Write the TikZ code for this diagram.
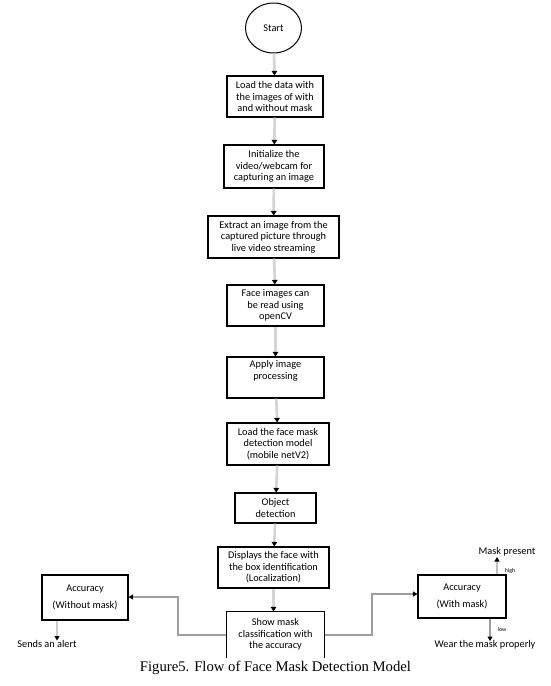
\documentclass[tikz,border=0pt]{standalone}
\usepackage{fontspec}
\setmainfont{Carlito}
\newfontfamily\capfont{Liberation Serif}
\usetikzlibrary{arrows.meta,calc,shapes.geometric}
\begin{document}
\begin{tikzpicture}[x=1pt,y=-1pt,
  stepbox/.style={draw, line width=1.1pt, align=center, inner sep=1pt,
    font=\fontsize{10.3}{11.6}\selectfont},
  freetext/.style={inner sep=0.5pt, font=\fontsize{10.3}{11}\selectfont},
  tinytext/.style={inner sep=0pt, font=\fontsize{5.8}{6}\selectfont},
  conn/.style={draw=black!17, line width=2.6pt,
    -{Triangle[color=black,length=4.5pt,width=5.5pt]}},
  sideconn/.style={draw=black!38, line width=1.8pt,
    -{Triangle[color=black,length=4.5pt,width=5pt]}}]
\useasboundingbox (0,0) rectangle (551,686);

\node[draw, ellipse, line width=1pt, minimum width=56pt, minimum height=50pt,
  font=\fontsize{10.3}{11}\selectfont] (start) at (273.5,28) {Start};

\node[stepbox, minimum width=96pt, minimum height=41pt] (b1) at (275,96.5)
  {Load the data with\\the images of with\\and without mask};
\node[stepbox, minimum width=100pt, minimum height=43pt] (b2) at (274,166.5)
  {Initialize the\\video/webcam for\\capturing an image};
\node[stepbox, minimum width=131pt, minimum height=42pt] (b3) at (273.5,237)
  {Extract an image from the\\captured picture through\\live video streaming};
\node[stepbox, minimum width=97pt, minimum height=41pt] (b4) at (275.5,305.5)
  {Face images can\\be read using\\openCV};
\node[stepbox, minimum width=97pt, minimum height=41pt] (b5) at (275.5,377.5)
  {Apply image\\processing\\[3pt]};
\node[stepbox, minimum width=102pt, minimum height=42pt] (b6) at (278,444)
  {Load the face mask\\detection model\\(mobile netV2)};
\node[stepbox, minimum width=81pt, minimum height=30pt] (b7) at (275.5,508)
  {Object\\detection};
\node[stepbox, minimum width=111pt, minimum height=41pt] (b8) at (273.5,567.5)
  {Displays the face with\\the box identification\\(Localization)};
\node[stepbox, draw=none, minimum width=97pt, minimum height=45pt] (b9) at (275.5,634.5)
  {Show mask\\classification with\\the accuracy};
\draw[line width=1.1pt] (b9.south west) -- (b9.north west) -- (b9.north east) -- (b9.south east);

\node[stepbox, minimum width=86pt, minimum height=45pt] (accl) at (85,597.5)
  {Accuracy\\[6pt](Without mask)};
\node[stepbox, minimum width=88pt, minimum height=43pt] (accr) at (462,596.5)
  {Accuracy\\[6pt](With mask)};

\node[freetext] (alert) at (47,644) {Sends an alert};
\node[freetext] (present) at (507,552) {Mask present};
\node[freetext] (wear) at (485,645) {Wear the mask properly};
\node[tinytext] (high) at (510,571) {high};
\node[tinytext] (low) at (502,629) {low};

\coordinate (alertin) at (57,640.5);
\coordinate (presentin) at (497,557);
\coordinate (wearin) at (490,641);

\draw[conn] (start) -- (b1);
\draw[conn] (b1) -- (b2);
\draw[conn] (b2) -- (b3);
\draw[conn] (b3) -- (b4);
\draw[conn] (b4) -- (b5);
\draw[conn] (b5) -- (b6);
\draw[conn] (b6) -- (b7);
\draw[conn] (b7) -- (b8);
\draw[conn] (b8) -- (b8.south |- b9.north);

\draw[sideconn] (b9.west |- 0,635) -- (178,635) -- (178,597) -- (accl.east |- 0,597);
\draw[sideconn] (b9.east |- 0,635) -- (372,635) -- (372,594) -- (accr.west |- 0,594);

\draw[sideconn, draw=black!20] (accl.south -| alertin) -- (alertin);
\draw[sideconn, draw=black!25] (accr.north -| presentin) -- (presentin);
\draw[sideconn] (accr.south -| wearin) -- (wearin);

\node[font=\capfont\fontsize{14.7}{16}\selectfont, inner sep=0pt] (caption) at (275.5,668)
  {Figure5. Flow of Face Mask Detection Model};
\end{tikzpicture}
\end{document}
